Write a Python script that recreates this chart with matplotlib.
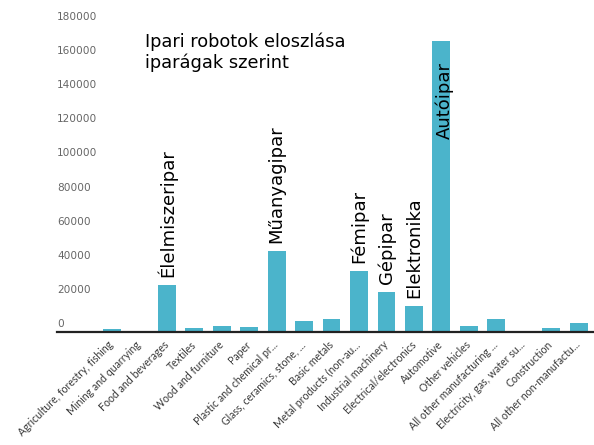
import numpy as np
import matplotlib
matplotlib.use('Agg')
import matplotlib.pyplot as plt
import matplotlib.transforms as mtransforms

categories = ['Agriculture, forestry, fishing', 'Mining and quarrying', 'Food and beverages',
              'Textiles', 'Wood and furniture', 'Paper', 'Plastic and chemical pr...',
              'Glass, ceramics, stone, ...', 'Basic metals', 'Metal products (non-au...',
              'Industrial machinery', 'Electrical/electronics', 'Automotive', 'Other vehicles',
              'All other manufacturing ...', 'Electricity, gas, water su...', 'Construction',
              'All other non-manufactu...']
robots = [1500, 200, 27500, 2600, 3700, 2900, 47500, 6450, 7600, 35800,
          23450, 15250, 170800, 3500, 7600, 200, 2350, 5300]

# feliratok a kiemelt oszlopok felett
notes = {2: 'Élelmiszeripar', 6: 'Műanyagipar', 9: 'Fémipar', 10: 'Gépipar', 11: 'Elektronika'}
yticks = np.arange(0, 180001, 20000)

fig = plt.figure(figsize=(5.94, 4.45), dpi=100)
ax = fig.add_axes([57/594, 113/445, 537/594, 332/445])

x = np.arange(len(categories))
ax.bar(x, robots, width=0.65, color='#4bb4cb')

ax.set_xlim(-2.0, 17.56)
ax.set_ylim(0, 194650)

for s in ['top', 'right', 'left']:
    ax.spines[s].set_visible(False)
ax.spines['bottom'].set_linewidth(1.6)
ax.spines['bottom'].set_color('#222222')

ax.set_yticks(yticks)
ax.set_yticklabels([str(v) for v in yticks], fontsize=7.6, color='#666666', ha='left')
ax.tick_params(axis='y', length=0, pad=0)
off = mtransforms.ScaledTranslation(0, 9/100, fig.dpi_scale_trans)
for lab in ax.get_yticklabels():
    lab.set_transform(lab.get_transform() + off)

ax.set_xticks(x)
ax.set_xticklabels(categories, rotation=45, ha='right', va='center', rotation_mode='anchor',
                   fontsize=7.6, color='#3a3a3a', family='Lato')
ax.tick_params(axis='x', length=0, pad=8)

for i, txt in notes.items():
    ax.annotate(txt, xy=(i, robots[i]), xytext=(0, 6), textcoords='offset points',
                rotation=90, ha='center', va='bottom', fontsize=13)
ax.annotate('Autóipar', xy=(12, robots[12]), xytext=(2.5, -15), textcoords='offset points',
            rotation=90, ha='center', va='top', fontsize=13)

fig.text(145/594, 1 - 52/445, 'Ipari robotok eloszlása\niparágak szerint',
         fontsize=12.8, va='center', ha='left', linespacing=1.2)

fig.savefig('out.png', dpi=100)
